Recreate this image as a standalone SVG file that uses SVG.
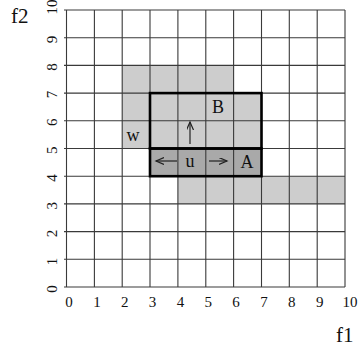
<svg xmlns="http://www.w3.org/2000/svg" width="358" height="348" viewBox="0 0 358 348">
<style>
.grid{stroke:#3a3a3a;stroke-width:1.1;fill:none}
.thick{stroke:#000;stroke-width:2.6;fill:none}
.lt{fill:#cdcdcd}
.dk{fill:#a9a9a9}
text{font-family:"Liberation Serif","Times New Roman",serif;fill:#111}
.num{font-size:15px;text-anchor:middle}
.lbl{font-size:18px;text-anchor:middle}
.ax{font-size:21px}
.arr{stroke:#222;stroke-width:1.2;fill:none}
</style>
<defs>
<marker id="ah" markerWidth="10" markerHeight="8" refX="8" refY="3.5" orient="auto" markerUnits="userSpaceOnUse">
<path d="M0,0 L8,3.5 L0,7" stroke="#222" stroke-width="1.2" fill="none"/>
</marker>
</defs>
<rect width="358" height="348" fill="#fff"/>
<g id="shading">
<rect class="lt" x="122.2" y="65.4" width="111.4" height="27.7"/>
<rect class="lt" x="122.2" y="93.1" width="139.3" height="55.4"/>
<rect class="dk" x="150" y="148.5" width="111.5" height="27.7"/>
<rect class="lt" x="177.9" y="176.2" width="167.1" height="27.7"/>
</g>
<g id="grid" class="grid">
<path d="M66.5,10V287M94.4,10V287M122.2,10V287M150,10V287M177.9,10V287M205.8,10V287M233.6,10V287M261.5,10V287M289.3,10V287M317.2,10V287M345,10V287"/>
<path d="M64,10H345M64,37.7H345M64,65.4H345M64,93.1H345M64,120.8H345M64,148.5H345M64,176.2H345M64,203.9H345M64,231.6H345M64,259.3H345M64,287H345"/>
</g>
<g id="node-B">
<rect class="thick" x="150" y="93.1" width="111.5" height="55.4"/>
<text class="lbl" x="218" y="113">B</text>
</g>
<g id="node-A">
<rect class="thick" x="150" y="148.5" width="111.5" height="27.7"/>
<text class="lbl" x="247" y="168">A</text>
</g>
<g id="node-u">
<text class="lbl" x="190" y="167">u</text>
</g>
<g id="node-w">
<text class="lbl" x="133" y="141">w</text>
</g>
<g id="connectors">
<line class="arr" x1="190" y1="144" x2="190" y2="122" marker-end="url(#ah)"/>
<line class="arr" x1="177" y1="161" x2="156" y2="161" marker-end="url(#ah)"/>
<line class="arr" x1="209" y1="161" x2="227" y2="161" marker-end="url(#ah)"/>
</g>
<g id="x-axis">
<text class="num" x="69" y="307">0</text>
<text class="num" x="96.9" y="307">1</text>
<text class="num" x="124.7" y="307">2</text>
<text class="num" x="152.5" y="307">3</text>
<text class="num" x="180.4" y="307">4</text>
<text class="num" x="208.3" y="307">5</text>
<text class="num" x="236.1" y="307">6</text>
<text class="num" x="264" y="307">7</text>
<text class="num" x="291.8" y="307">8</text>
<text class="num" x="319.7" y="307">9</text>
<text class="num" x="350" y="307">10</text>
<text class="ax" x="336" y="342">f1</text>
</g>
<g id="y-axis">
<text class="num" transform="translate(57,289) rotate(-90)">0</text>
<text class="num" transform="translate(57,261.5) rotate(-90)">1</text>
<text class="num" transform="translate(57,233.5) rotate(-90)">2</text>
<text class="num" transform="translate(57,205.8) rotate(-90)">3</text>
<text class="num" transform="translate(57,178) rotate(-90)">4</text>
<text class="num" transform="translate(57,150.2) rotate(-90)">5</text>
<text class="num" transform="translate(57,122.2) rotate(-90)">6</text>
<text class="num" transform="translate(57,94.6) rotate(-90)">7</text>
<text class="num" transform="translate(57,67) rotate(-90)">8</text>
<text class="num" transform="translate(57,39.4) rotate(-90)">9</text>
<text class="num" transform="translate(57,7) rotate(-90)">10</text>
<text class="ax" x="11" y="23">f2</text>
</g>
</svg>
